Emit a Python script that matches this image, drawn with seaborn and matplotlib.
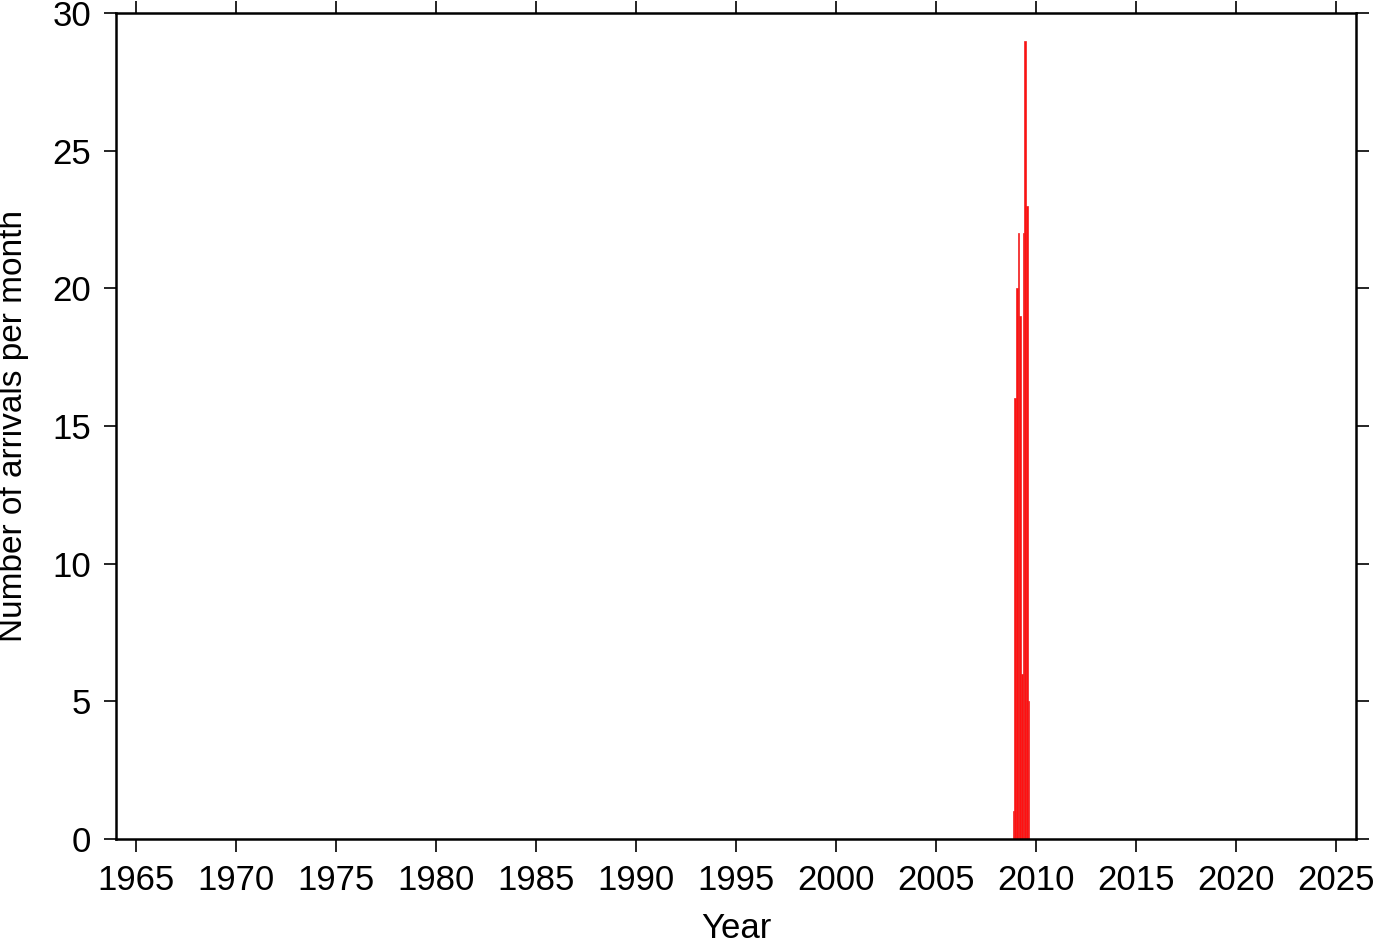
import numpy as np
import pandas as pd
import matplotlib
matplotlib.use("Agg")
import matplotlib.pyplot as plt
import seaborn as sns

# Monthly arrival counts (start of month as decimal year)
years = [2008, 2008, 2009, 2009, 2009, 2009, 2009, 2009, 2009, 2009]
months = [11, 12, 1, 2, 3, 4, 5, 6, 7, 8]
counts = [1, 16, 20, 22, 19, 6, 22, 29, 23, 5]

x_ticks = list(range(1965, 2030, 5))
y_ticks = [0, 5, 10, 15, 20, 25, 30]

sns.set_theme(style="white")
plt.rcParams['font.family'] = ['Liberation Sans', 'DejaVu Sans']

df = pd.DataFrame({"year": years, "month": months, "count": counts})
df["t"] = df["year"] + (df["month"] - 1) / 12.0 + 1 / 24.0

fig = plt.figure(figsize=(13.82, 9.42), dpi=100)
ax = fig.add_axes([116 / 1382, 1 - 839 / 942, (1356 - 116) / 1382, (839 - 13) / 942])

sns.histplot(data=df, x="t", weights="count", binwidth=1 / 12,
             binrange=(2008 + 10 / 12, 2009 + 8 / 12), color="#ff1010",
             edgecolor="#f02020", linewidth=0.5, alpha=1.0, ax=ax)

ax.set_xlim(1964, 2026)
ax.set_ylim(0, 30)
ax.set_xticks(x_ticks)
ax.set_yticks(y_ticks)
ax.set_xticklabels([str(v) for v in x_ticks])
ax.set_yticklabels([str(v) for v in y_ticks])
ax.tick_params(axis="both", which="both", direction="out", length=9, width=1.2,
               labelsize=25, colors="black", pad=9,
               top=True, right=True, bottom=True, left=True,
               labeltop=False, labelright=False)
ax.tick_params(axis="x", pad=9)
for s in ax.spines.values():
    s.set_visible(True)
    s.set_color("black")
    s.set_linewidth(1.8)
ax.grid(False)
ax.set_xlabel("Year", fontsize=25, color="black")
ax.set_ylabel("Number of arrivals per month", fontsize=24, color="black")
ax.xaxis.set_label_coords((736 - 116) / 1240, (839 - 929) / 826)
ax.yaxis.set_label_coords((14 - 116) / 1240, 0.5)
ax.xaxis.label.set_va("center")
ax.yaxis.label.set_va("center")

fig.savefig("out.png", dpi=100, facecolor="white")
